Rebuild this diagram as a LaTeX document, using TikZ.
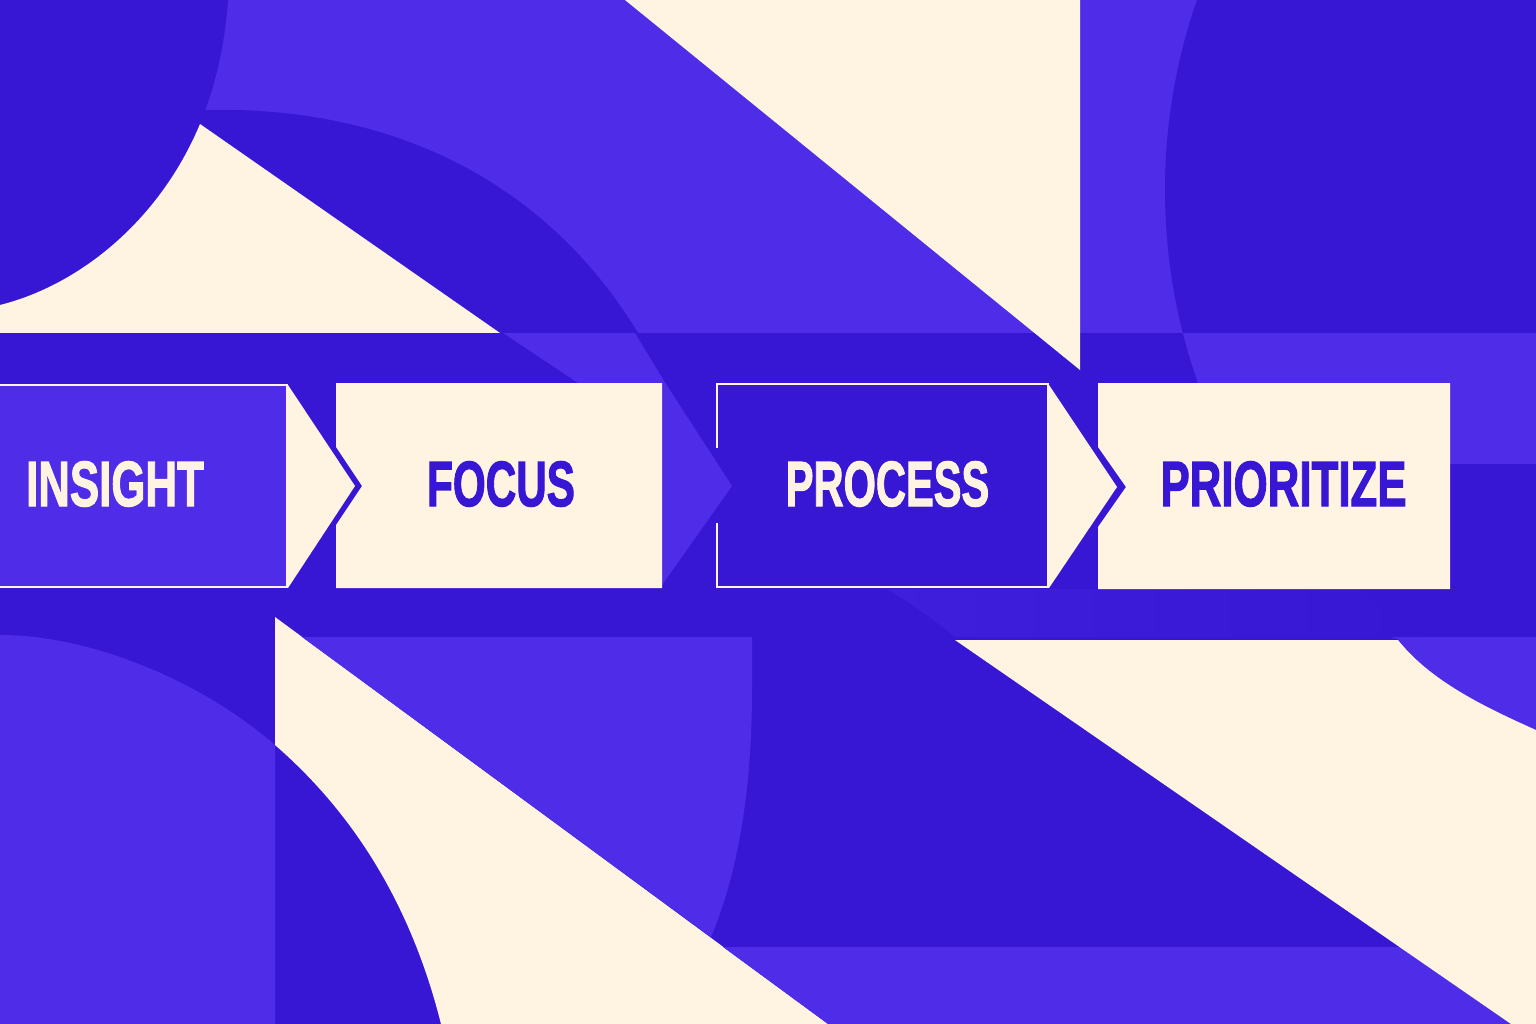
\documentclass[tikz,border=0pt]{standalone}
\usepackage{graphicx}
\usepackage{fontspec}
\newfontfamily\labelfont[BoldFeatures={FakeBold=2}]{Liberation Sans}
\definecolor{lp}{HTML}{4F2DE8}
\definecolor{dp}{HTML}{3716D4}
\definecolor{cr}{HTML}{FFF4E1}
\definecolor{mp}{HTML}{3F1FDB}
\tikzset{
  lab/.style={font=\labelfont\bfseries\fontsize{64}{64}\selectfont, inner sep=0pt},
  boxline/.style={draw=cr, line width=2.2pt},
}
\begin{document}
\begin{tikzpicture}[x=1pt,y=-1pt]
\useasboundingbox (0,0) rectangle (1536,1024);
\clip (0,0) rectangle (1536,1024);
% ---- top region
\fill[lp] (0,0) rectangle (1536,333);
\begin{scope}
  \clip (0,0) rectangle (1536,333);
  \fill[dp] (0,0) -- (228,0) .. controls (225,45) and (215,85) .. (205,110)
     .. controls (420,105) and (580,205) .. (664,381) -- (0,383) -- cycle;
  \fill[cr] (200,124) -- (500,333) -- (0,333) -- (0,305)
     .. controls (80,285) and (160,220) .. (200,124) -- cycle;
\end{scope}
\begin{scope}
  \clip (1080,0) rectangle (1536,333);
  \fill[dp] (1743,190) circle (578);
\end{scope}
% ---- band and bottom background
\fill[dp] (0,333) rectangle (1536,1024);
\begin{scope}
  \clip (1080,333) rectangle (1536,463);
  \fill[lp] (1743,190) circle (578);
\end{scope}
% process box fill (under the light chevron)
\fill[dp] (717,384) rectangle (1048,587);
% light wedge and chevron in the band
\fill[lp] (503,333) -- (635,333) -- (664,381) -- (732,486) -- (662,585)
   -- (600,585) -- (578,383) -- cycle;
% big cream triangle at the top
\fill[cr] (625,0) -- (1080,0) -- (1080,370) -- cycle;
% ---- bottom region
\fill[lp] (0,635) .. controls (90,635) and (200,680) .. (275,745)
   -- (275,1024) -- (0,1024) -- cycle;
\fill[cr] (275,617) -- (828,1024) -- (441,1024)
   .. controls (410,900) and (350,810) .. (275,745) -- cycle;
\fill[lp] (302,637) -- (752,637) -- (752,690)
   .. controls (752,800) and (735,880) .. (711,937) -- cycle;
\fill[lp] (723,947) -- (1400,947) -- (1511,1024) -- (828,1024) -- cycle;
\fill[lp] (1390,637) -- (1536,637) -- (1536,730)
   .. controls (1480,705) and (1430,680) .. (1398,639) -- cycle;
\fill[cr] (955,640) -- (1398,640) .. controls (1430,680) and (1480,705) .. (1536,730)
   -- (1536,1024) -- (1511,1024) -- cycle;
\shade[left color=mp, right color=dp] (886,589) .. controls (915,605) and (940,625) .. (955,637)
   -- (1420,637) -- (1360,589) -- cycle;
% ---- boxes
\fill[lp] (-5,385) rectangle (287,587);
\draw[boxline] (-5,385) -- (287,385) -- (287,587) -- (-5,587);
\fill[cr] (288,385) -- (355,486) -- (288,588) -- cycle;
\fill[cr] (336,383) -- (662,383) -- (662,588) -- (336,588) -- (336,525)
   -- (362,486) -- (336,447) -- cycle;
\draw[boxline] (717,448) -- (717,384) -- (1048,384) -- (1048,587) -- (717,587) -- (717,523);
\fill[cr] (1049,385) -- (1117,487) -- (1049,588) -- cycle;
\fill[cr] (1098,383) -- (1450,383) -- (1450,589) -- (1098,589) -- (1098,527)
   -- (1126,487) -- (1098,447) -- cycle;
% ---- labels
\node[lab, text=cr] (insight) at (115,484) {\scalebox{0.685}[1]{INSIGHT}};
\node[lab, text=dp] (focus) at (501,484) {\scalebox{0.66}[1]{FOCUS}};
\node[lab, text=cr] (process) at (887.5,484) {\scalebox{0.65}[1]{PROCESS}};
\node[lab, text=dp] (prioritize) at (1283.5,484) {\scalebox{0.685}[1]{PRIORITIZE}};
\end{tikzpicture}
\end{document}
